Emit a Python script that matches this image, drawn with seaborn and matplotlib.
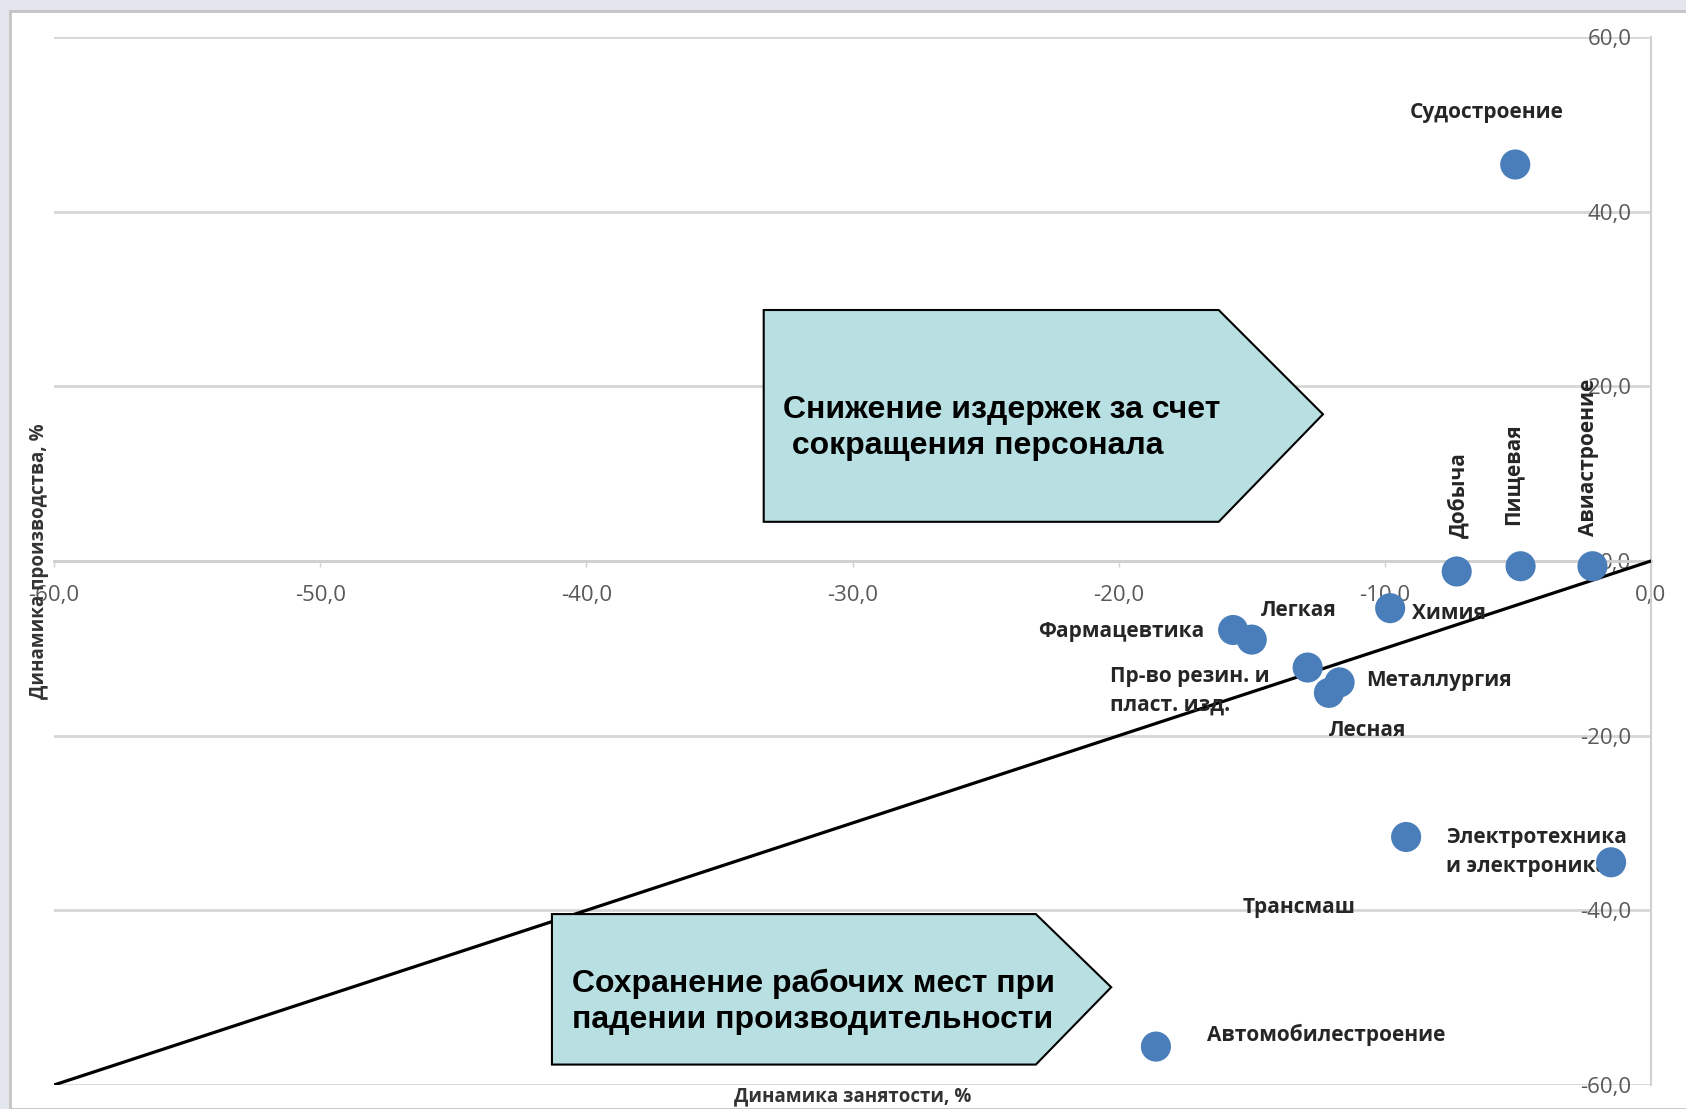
import matplotlib
matplotlib.use("Agg")
import matplotlib.pyplot as plt
import seaborn as sns
import pandas as pd
from matplotlib.patches import Polygon, Rectangle
from matplotlib.ticker import FuncFormatter

# Industries: employment change (x) vs production change (y), %
industries = ["Судостроение", "Добыча", "Пищевая", "Авиастроение", "Химия",
              "Фармацевтика", "Легкая", "Пр-во резин. и\nпласт. изд.",
              "Металлургия", "Лесная", "Электротехника\nи электроника",
              "Трансмаш", "Автомобилестроение"]
employment = [-5.1, -7.3, -4.9, -2.2, -9.8, -15.7, -15.0, -12.9, -11.7, -12.1, -9.2, -1.5, -18.6]
production = [45.4, -1.2, -0.6, -0.6, -5.4, -7.9, -9.0, -12.2, -13.9, -15.1, -31.6, -34.5, -55.6]

# reference line y = x
diag_x = [-60, 0]
diag_y = [-60, 0]

x_ticks = [-60, -50, -40, -30, -20, -10, 0]
y_ticks = [-60, -40, -20, 0, 20, 40, 60]

# label offsets in pixels from each point: (dx, dy, ha, rotation)
label_style = {
    "Судостроение": (-29, 52, "center", 0),
    "Добыча": (2, 76, "center", 90),
    "Пищевая": (-8, 92, "center", 90),
    "Авиастроение": (-4, 109, "center", 90),
    "Химия": (22, -5, "left", 0),
    "Фармацевтика": (-29, -2, "right", 0),
    "Легкая": (47, 29, "center", 0),
    "Пр-во резин. и\nпласт. изд.": (-198, -23, "left", 0),
    "Металлургия": (27, 2, "left", 0),
    "Лесная": (39, -38, "center", 0),
    "Электротехника\nи электроника": (40, -15, "left", 0),
    "Трансмаш": (-312, -45, "center", 0),
    "Автомобилестроение": (170, 12, "center", 0),
}

df = pd.DataFrame({"industry": industries, "employment": employment, "production": production})

sns.set_theme(style="white")
plt.rcParams["font.family"] = ["Open Sans", "DejaVu Sans"]

fig = plt.figure(figsize=(16.86, 11.09), dpi=100, facecolor="#e3e7ed")
frame = Rectangle((10 / 1686, 0), 1.0, 1 - 11 / 1109, transform=fig.transFigure,
                  facecolor="white", edgecolor="#c4c4c4", lw=2, zorder=-1)
fig.add_artist(frame)

ax = fig.add_axes([54 / 1686, 1 - 1085 / 1109, (1651 - 54) / 1686, (1085 - 37) / 1109])
ax.set_facecolor("none")

sns.lineplot(x=diag_x, y=diag_y, ax=ax, color="black", lw=2.3, zorder=3)
sns.scatterplot(data=df, x="employment", y="production", ax=ax, s=470,
                color="#4a7ebb", edgecolor="none", zorder=5)

for name, xv, yv in zip(industries, employment, production):
    dx, dy, ha, rot = label_style[name]
    ax.annotate(name, (xv, yv), xytext=(dx, dy), textcoords="offset pixels",
                ha=ha, va="center", rotation=rot, fontsize=15, fontweight="bold",
                color="#262626", linespacing=1.45, zorder=4)

ax.set_xlim(-60, 0)
ax.set_ylim(-60, 60)
ax.set_xticks(x_ticks)
ax.set_yticks(y_ticks)
fmt = FuncFormatter(lambda v, p: f"{v:.1f}".replace(".", ","))
ax.xaxis.set_major_formatter(fmt)
ax.yaxis.set_major_formatter(fmt)

ax.yaxis.grid(True, color="#d6d6d6", lw=2)
ax.xaxis.grid(False)
ax.set_axisbelow(True)

for s in ["top", "right"]:
    ax.spines[s].set_visible(False)
ax.spines["left"].set_position(("data", 0))
ax.spines["bottom"].set_position(("data", 0))
ax.spines["left"].set_color("#d0d0d0")
ax.spines["bottom"].set_color("#d0d0d0")
ax.spines["left"].set_linewidth(1.5)
ax.spines["bottom"].set_linewidth(2)

ax.tick_params(axis="y", length=0, pad=14, labelsize=16, labelcolor="#595959")
ax.tick_params(axis="x", length=4, width=1, color="#d0d0d0", direction="out",
               pad=13, labelsize=16, labelcolor="#595959", bottom=True)
ax.set_xlabel("")
ax.set_ylabel("")

ax.text(-0.0095, 0.5, "Динамика производства, %", transform=ax.transAxes, rotation=90,
        ha="center", va="center", fontsize=13.5, fontweight="bold", color="#333333")
ax.text(0.5, -0.0105, "Динамика занятости, %", transform=ax.transAxes,
        ha="center", va="center", fontsize=13.5, fontweight="bold", color="#333333")

# callout arrows
box_kw = dict(transform=ax.transAxes, facecolor="#b8dfe2", edgecolor="black", lw=1.5,
              zorder=6, clip_on=False)
ax.add_patch(Polygon([(0.4444, 0.5374), (0.4444, 0.7395), (0.7293, 0.7395),
                      (0.7946, 0.640), (0.7293, 0.5374)], **box_kw))
ax.add_patch(Polygon([(0.3118, 0.0195), (0.3118, 0.1631), (0.6148, 0.1631),
                      (0.662, 0.0933), (0.6148, 0.0195)], **box_kw))

box_text = dict(transform=ax.transAxes, ha="left", va="center", fontsize=23,
                fontweight="bold", family="Liberation Sans", color="black",
                linespacing=1.27, zorder=7)
ax.text(0.4566, 0.6267, "Снижение издержек за счет\n сокращения персонала", **box_text)
ax.text(0.3246, 0.079, "Сохранение рабочих мест при\nпадении производительности", **box_text)

fig.savefig("out.png", dpi=100, facecolor=fig.get_facecolor())
